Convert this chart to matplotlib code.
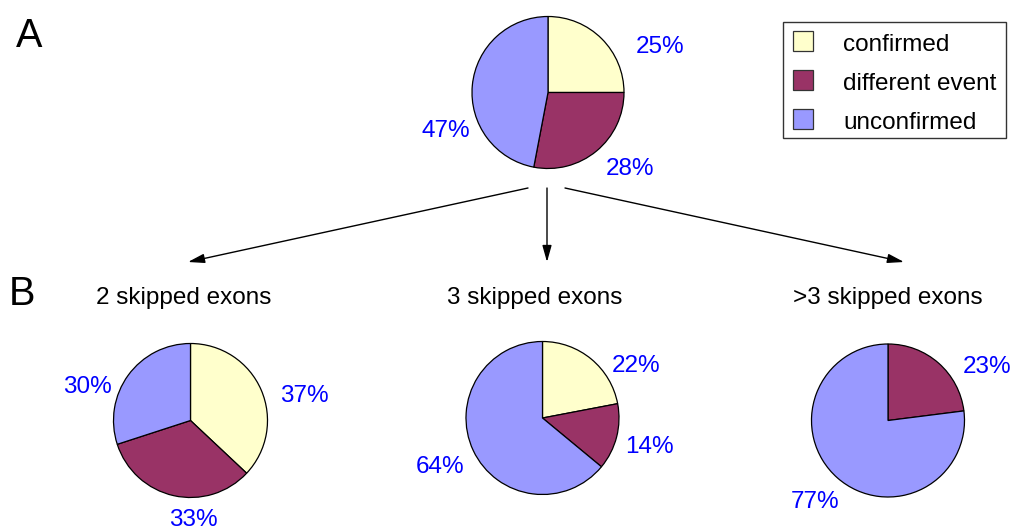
import matplotlib
matplotlib.use("Agg")
import matplotlib.pyplot as plt
from matplotlib.patches import Rectangle, FancyArrowPatch

plt.rcParams['font.family'] = ['Liberation Sans', 'DejaVu Sans']

# Categories and colours
categories = ["confirmed", "different event", "unconfirmed"]
colors = ["#FFFFCC", "#993366", "#9999FF"]

# Percentages per group
overall = [25, 28, 47]
skip2 = [37, 33, 30]
skip3 = [22, 14, 64]
skip_more = [0, 23, 77]

group_titles = ["2 skipped exons", "3 skipped exons", ">3 skipped exons"]

W, H = 1013, 527
fig = plt.figure(figsize=(W / 100, H / 100), dpi=100)
ax = fig.add_axes([0, 0, 1, 1])


def Y(y):
    # pixel row (top-down) -> data y (bottom-up)
    return H - y


label_kw = dict(color="#0000FF", fontsize=17.5, ha="center", va="baseline")

# pie layout: center (px), radius (px), label offsets per wedge (px from center)
pies = [
    (overall, (548, 92.5), 76, [(112.5, -47.5), (82, 74.5), (-102.5, 36.5)]),
    (skip2, (190.5, 420.5), 77, [(113.5, -27), (3, 97.5), (-103, -36)]),
    (skip3, (542.5, 418), 76.5, [(93.5, -54), (106.5, 27), (-102.5, 47)]),
    (skip_more, (888, 420.5), 76.5, [(0, 0), (99, -55.5), (-72.5, 79.5)]),
]

for values, (cx, cy), r, offsets in pies:
    ax.pie(values, colors=colors, startangle=90, counterclock=False,
           center=(cx, Y(cy)), radius=r, frame=True,
           wedgeprops=dict(edgecolor="black", linewidth=0.9))
    for v, (dx, dy) in zip(values, offsets):
        if v > 0:
            ax.text(cx + dx, Y(cy + dy + 8.3), f"{v}%", **label_kw)

# group titles
for title, x in zip(group_titles, [184, 534.5, 888]):
    ax.text(x, Y(304), title, fontsize=17.5, ha="center", va="baseline", color="black")

# panel letters
ax.text(29.5, Y(47), "A", fontsize=28.5, ha="center", va="baseline")
ax.text(22.5, Y(305), "B", fontsize=28.5, ha="center", va="baseline")

# arrows from the overall pie to each group
arrows = [((528, 188), (188, 262)), ((547, 188), (547, 262)), ((565, 188), (904, 262))]
for (x0, y0), (x1, y1) in arrows:
    ax.add_patch(FancyArrowPatch((x0, Y(y0)), (x1, Y(y1)),
                                 arrowstyle="-|>,head_length=1.0,head_width=0.28",
                                 mutation_scale=10, shrinkA=0, shrinkB=0,
                                 color="black", linewidth=1.0))

# legend
ax.add_patch(Rectangle((783, Y(138)), 223, 116, facecolor="white",
                       edgecolor="#333333", linewidth=1.0))
for i, (name, col) in enumerate(zip(categories, colors)):
    top = 31 + 39 * i
    ax.add_patch(Rectangle((793, Y(top + 19.5)), 20, 19.5, facecolor=col,
                           edgecolor="#333333", linewidth=0.9))
    ax.text(843, Y(top + 20), name, fontsize=17.5, ha="left", va="baseline")

ax.set_xlim(0, W)
ax.set_ylim(0, H)
ax.set_aspect("auto")
ax.axis("off")

fig.savefig("out.png", dpi=100)
